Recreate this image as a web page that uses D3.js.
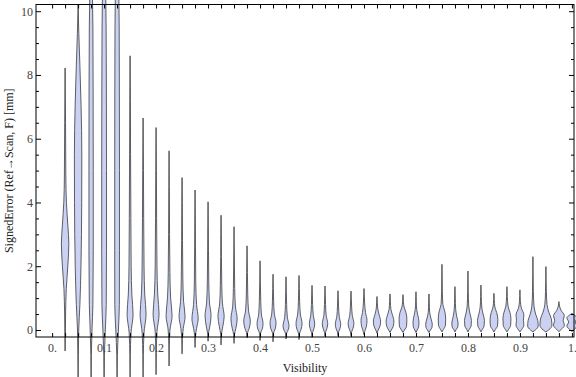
<!DOCTYPE html>
<html>
<head>
<meta charset="utf-8">
<script src="https://cdn.jsdelivr.net/npm/d3@7"></script>
<style>
body { margin: 0; background: #fff; }
text { font-family: "Liberation Serif", "Times New Roman", serif; }
</style>
</head>
<body>
<div id="chart"></div>
<script>
// visibility bins (one violin each)
const visibility = [0.025, 0.05, 0.075, 0.1, 0.125, 0.15, 0.175, 0.2, 0.225, 0.25,
	0.275, 0.3, 0.325, 0.35, 0.375, 0.4, 0.425, 0.45, 0.475, 0.5,
	0.525, 0.55, 0.575, 0.6, 0.625, 0.65, 0.675, 0.7, 0.725, 0.75,
	0.775, 0.8, 0.825, 0.85, 0.875, 0.9, 0.925, 0.95, 0.975, 1.0];

// density outline of each violin: [signed error (mm), relative density]
const profiles = [
	[[-0.66,0],[-0.2,0.04],[0.5,0.08],[1.3,0.2],[2.0,0.45],[2.7,0.62],[3.3,0.45],[4.0,0.22],[4.8,0.12],[6.5,0.07],[8.22,0]],
	[[-1.6,0],[-0.8,0.04],[0,0.1],[0.8,0.3],[2,0.48],[4,0.6],[5.5,0.62],[7,0.5],[8.3,0.3],[9.3,0.12],[10.2,0]],
	[[-1.7,0],[-0.8,0.04],[0,0.15],[0.8,0.3],[2.5,0.36],[5,0.36],[7.5,0.34],[9.5,0.3],[10.8,0.2]],
	[[-1.7,0],[-0.8,0.05],[0,0.2],[0.8,0.36],[2.5,0.4],[5,0.4],[7.5,0.38],[9.5,0.34],[10.8,0.25]],
	[[-1.7,0],[-0.8,0.05],[0,0.22],[0.8,0.38],[2.5,0.4],[5,0.4],[7.5,0.38],[9.5,0.35],[10.8,0.28]],
	[[-1.6,0],[-0.8,0.04],[-0.1,0.15],[0.5,0.5],[1.1,0.3],[2,0.18],[3.5,0.13],[5.5,0.08],[7.2,0.05],[8.6,0]],
	[[-1.6,0],[-0.8,0.04],[-0.1,0.15],[0.5,0.5],[1.1,0.28],[2,0.16],[3.5,0.1],[5,0.06],[6.65,0]],
	[[-1.4,0],[-0.7,0.04],[-0.05,0.15],[0.5,0.5],[1.1,0.28],[2,0.15],[3.5,0.09],[5,0.05],[6.35,0]],
	[[-1.13,0],[-0.5,0.04],[0,0.15],[0.45,0.5],[1.0,0.26],[1.8,0.14],[3,0.08],[4.5,0.04],[5.62,0]],
	[[-0.75,0],[-0.3,0.05],[0.05,0.2],[0.42,0.5],[0.9,0.25],[1.6,0.13],[2.8,0.07],[4,0.04],[4.78,0]],
	[[-0.55,0],[-0.2,0.06],[0.05,0.25],[0.35,0.52],[0.8,0.25],[1.5,0.12],[2.6,0.07],[3.6,0.04],[4.39,0]],
	[[-0.35,0],[-0.1,0.08],[0.1,0.28],[0.45,0.5],[0.85,0.24],[1.5,0.12],[2.5,0.07],[3.3,0.04],[4.02,0]],
	[[-0.47,0],[-0.15,0.06],[0.1,0.28],[0.42,0.52],[0.85,0.22],[1.4,0.12],[2.3,0.06],[3,0.04],[3.6,0]],
	[[-0.42,0],[-0.15,0.06],[0.05,0.3],[0.35,0.52],[0.75,0.22],[1.3,0.11],[2.1,0.06],[3.24,0]],
	[[-0.25,0],[-0.08,0.1],[0.05,0.35],[0.28,0.55],[0.6,0.25],[1.1,0.12],[1.8,0.06],[2.64,0]],
	[[-0.33,0],[-0.1,0.08],[0.02,0.35],[0.2,0.5],[0.5,0.22],[0.9,0.12],[1.5,0.05],[2.17,0]],
	[[-0.37,0],[-0.1,0.08],[0.03,0.35],[0.22,0.5],[0.5,0.22],[0.9,0.1],[1.3,0.05],[1.75,0]],
	[[-0.28,0],[-0.1,0.1],[0.0,0.35],[0.12,0.5],[0.4,0.22],[0.8,0.1],[1.2,0.05],[1.67,0]],
	[[-0.3,0],[-0.1,0.1],[0.02,0.35],[0.2,0.5],[0.5,0.22],[0.9,0.1],[1.3,0.05],[1.71,0]],
	[[-0.23,0],[-0.08,0.1],[0.05,0.32],[0.2,0.45],[0.45,0.22],[0.8,0.1],[1.1,0.05],[1.4,0]],
	[[-0.2,0],[-0.07,0.1],[0.05,0.32],[0.2,0.45],[0.45,0.2],[0.8,0.09],[1.1,0.04],[1.38,0]],
	[[-0.18,0],[-0.06,0.1],[0.04,0.32],[0.18,0.45],[0.42,0.2],[0.75,0.09],[1.0,0.04],[1.23,0]],
	[[-0.18,0],[-0.06,0.1],[0.05,0.33],[0.2,0.48],[0.45,0.22],[0.75,0.1],[1.0,0.04],[1.22,0]],
	[[-0.15,0],[-0.05,0.12],[0.1,0.38],[0.3,0.5],[0.55,0.25],[0.85,0.1],[1.1,0.04],[1.3,0]],
	[[-0.1,0],[0,0.2],[0.12,0.5],[0.28,0.6],[0.48,0.35],[0.65,0.14],[0.85,0.06],[1.05,0]],
	[[-0.08,0],[0,0.22],[0.12,0.55],[0.28,0.65],[0.48,0.4],[0.65,0.15],[0.9,0.06],[1.13,0]],
	[[-0.08,0],[0,0.25],[0.12,0.6],[0.32,0.65],[0.55,0.5],[0.72,0.18],[0.9,0.06],[1.11,0]],
	[[-0.08,0],[0,0.2],[0.1,0.45],[0.25,0.5],[0.45,0.32],[0.65,0.12],[0.9,0.05],[1.2,0]],
	[[-0.08,0],[0,0.25],[0.08,0.5],[0.18,0.55],[0.35,0.35],[0.55,0.12],[0.85,0.05],[1.13,0]],
	[[-0.06,0],[0.02,0.25],[0.15,0.58],[0.35,0.62],[0.6,0.45],[0.8,0.15],[1.2,0.06],[2.06,0]],
	[[-0.06,0],[0.02,0.22],[0.1,0.48],[0.22,0.52],[0.42,0.3],[0.65,0.12],[1.0,0.05],[1.36,0]],
	[[-0.06,0],[0.02,0.22],[0.12,0.52],[0.3,0.58],[0.5,0.35],[0.75,0.13],[1.2,0.05],[1.85,0]],
	[[-0.06,0],[0.02,0.22],[0.12,0.52],[0.3,0.58],[0.5,0.35],[0.72,0.13],[1.05,0.05],[1.41,0]],
	[[-0.06,0],[0.02,0.25],[0.12,0.58],[0.32,0.65],[0.55,0.45],[0.72,0.15],[0.95,0.05],[1.15,0]],
	[[-0.06,0],[0.02,0.28],[0.15,0.62],[0.35,0.67],[0.55,0.5],[0.75,0.18],[1.05,0.06],[1.36,0]],
	[[-0.06,0],[0.02,0.3],[0.15,0.66],[0.3,0.58],[0.48,0.65],[0.68,0.25],[0.9,0.07],[1.26,0]],
	[[-0.06,0],[0.0,0.4],[0.12,0.88],[0.3,0.8],[0.5,0.45],[0.75,0.18],[1.2,0.07],[2.3,0]],
	[[-0.06,0],[0.0,0.45],[0.15,1.0],[0.35,0.9],[0.55,0.5],[0.8,0.18],[1.2,0.07],[1.99,0]],
	[[-0.05,0],[0.02,0.4],[0.15,0.92],[0.3,0.7],[0.45,0.9],[0.62,0.35],[0.75,0.1],[0.89,0]],
	[[-0.05,0],[0.02,0.4],[0.12,0.85],[0.25,0.55],[0.38,0.85],[0.47,0.4],[0.52,0]]
];

// frame ticks
const xTickMarks = [0, 0.025, 0.05, 0.075, 0.1, 0.125, 0.15, 0.175, 0.2, 0.225, 0.25,
	0.275, 0.3, 0.325, 0.35, 0.375, 0.4, 0.425, 0.45, 0.475, 0.5,
	0.525, 0.55, 0.575, 0.6, 0.625, 0.65, 0.675, 0.7, 0.725, 0.75,
	0.775, 0.8, 0.825, 0.85, 0.875, 0.9, 0.925, 0.95, 0.975, 1.0];
const xTickValues = [0, 0.1, 0.2, 0.3, 0.4, 0.5, 0.6, 0.7, 0.8, 0.9, 1.0];
const xTickLabels = ['0.', '0.1', '0.2', '0.3', '0.4', '0.5', '0.6', '0.7', '0.8', '0.9', '1.'];
const yTickValues = [0, 2, 4, 6, 8, 10];
const yMinorTicks = [0.5, 1, 1.5, 2.5, 3, 3.5, 4.5, 5, 5.5, 6.5, 7, 7.5, 8.5, 9, 9.5];

const W = 576, H = 377;
const plot = { left: 36, right: 574, top: 4.5, bottom: 337 };

const x = d3.scaleLinear().domain([-0.031, 1.004]).range([plot.left, plot.right]);
const y = d3.scaleLinear().domain([-0.22, 10.21]).range([plot.bottom, plot.top]);
const w = d3.scaleLinear().domain([0, 1]).range([0, 6]); // density -> half width

const svg = d3.select('#chart').append('svg')
	.attr('width', W)
	.attr('height', H);

//violins
const violins = svg.append('g').attr('class', 'violins');

visibility.forEach((v, i) => {
	const cx = x(v);
	const area = d3.area()
		.curve(d3.curveMonotoneY)
		.y((d) => y(d[0]))
		.x0((d) => cx - w(d[1]))
		.x1((d) => cx + w(d[1]));

	violins.append('path')
		.attr('d', area(profiles[i]))
		.attr('fill', '#cad1f3')
		.attr('stroke', '#3c3c3c')
		.attr('stroke-opacity', 0.8)
		.attr('stroke-width', 1);
});

//frame
svg.append('rect')
	.attr('x', plot.left)
	.attr('y', plot.top)
	.attr('width', plot.right - plot.left)
	.attr('height', plot.bottom - plot.top)
	.attr('fill', 'none')
	.attr('stroke', '#000')
	.attr('stroke-width', 1);

const styleAxis = (g) => {
	g.select('.domain').remove();
	g.selectAll('line').attr('stroke', '#000');
	g.selectAll('text')
		.attr('fill', '#444')
		.style('font-size', '12px')
		.style('font-family', '"Liberation Serif", "Times New Roman", serif');
};

// x tick marks bottom and top
svg.append('g').attr('transform', `translate(0,${plot.bottom})`)
	.call(d3.axisBottom(x).tickValues(xTickMarks).tickSize(-4).tickFormat(''))
	.call(styleAxis);
svg.append('g').attr('transform', `translate(0,${plot.top})`)
	.call(d3.axisTop(x).tickValues(xTickMarks).tickSize(-4).tickFormat(''))
	.call(styleAxis);

// x labels
svg.append('g').attr('transform', `translate(0,${plot.bottom})`)
	.call(d3.axisBottom(x).tickValues(xTickValues).tickSize(0).tickPadding(6.5)
		.tickFormat((d, i) => xTickLabels[i]))
	.call(styleAxis);

// y ticks left and right
svg.append('g').attr('transform', `translate(${plot.left},0)`)
	.call(d3.axisLeft(y).tickValues(yTickValues).tickSize(-5).tickPadding(3).tickFormat(d3.format('d')))
	.call(styleAxis);
svg.append('g').attr('transform', `translate(${plot.left},0)`)
	.call(d3.axisLeft(y).tickValues(yMinorTicks).tickSize(-3).tickFormat(''))
	.call(styleAxis);
svg.append('g').attr('transform', `translate(${plot.right},0)`)
	.call(d3.axisRight(y).tickValues(yTickValues).tickSize(-5).tickFormat(''))
	.call(styleAxis);
svg.append('g').attr('transform', `translate(${plot.right},0)`)
	.call(d3.axisRight(y).tickValues(yMinorTicks).tickSize(-3).tickFormat(''))
	.call(styleAxis);

// axis titles
svg.append('text')
	.attr('x', (plot.left + plot.right) / 2)
	.attr('y', 372)
	.attr('text-anchor', 'middle')
	.attr('fill', '#222')
	.style('font-size', '12px')
	.text('Visibility');

svg.append('text')
	.attr('transform', `translate(13,${(plot.top + plot.bottom) / 2}) rotate(-90)`)
	.attr('text-anchor', 'middle')
	.attr('fill', '#222')
	.style('font-size', '12px')
	.text('SignedError (Ref\u2192Scan, F) [mm]');
</script>
</body>
</html>
